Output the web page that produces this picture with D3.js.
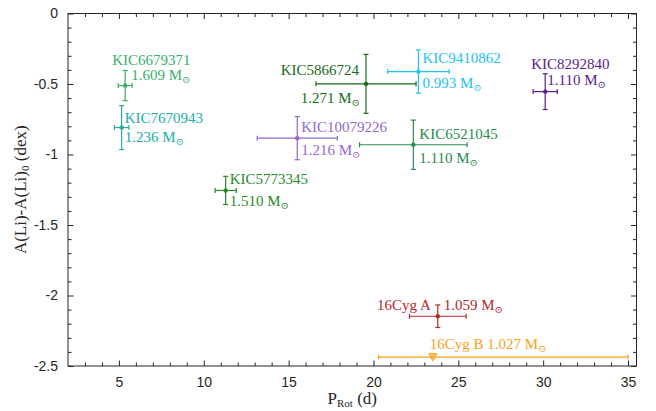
<!DOCTYPE html>
<html>
<head>
<meta charset="utf-8">
<script src="https://cdn.jsdelivr.net/npm/d3@7"></script>
<style>
  body { margin: 0; background: #fff; }
  svg { display: block; }
  .tick text { font-family: "Liberation Sans", Arial, sans-serif; font-size: 14px; fill: #262626; }
  .lbl { font-family: "Liberation Serif", "DejaVu Serif", serif; font-size: 15px; }
  .title { font-family: "Liberation Serif", "DejaVu Serif", serif; font-size: 17px; }
</style>
</head>
<body>
<div id="chart"></div>
<script>
const stars = ["KIC6679371", "KIC7670943", "KIC5773345", "KIC10079226", "KIC5866724",
  "KIC9410862", "KIC8292840", "KIC6521045", "16Cyg A", "16Cyg B"];
const masses = ["1.609", "1.236", "1.510", "1.216", "1.271", "0.993", "1.110", "1.110", "1.059", "1.027"];
const prot = [5.37, 5.16, 11.29, 15.51, 19.56, 22.65, 30.12, 22.35, 23.79, 23.5];
const protErrLo = [0.41, 0.43, 0.62, 2.36, 2.95, 1.81, 0.71, 3.17, 1.67, 3.2];
const protErrHi = [0.41, 0.43, 0.62, 2.36, 2.95, 1.81, 0.71, 3.17, 1.67, 11.5];
const dLi = [-0.511, -0.809, -1.255, -0.884, -0.499, -0.412, -0.554, -0.931, -2.147, -2.437];
const dLiErr = [0.107, 0.156, 0.10, 0.153, 0.209, 0.153, 0.127, 0.175, 0.08, 0];
const upperLimit = [false, false, false, false, false, false, false, false, false, true];

const xTicks = [5, 10, 15, 20, 25, 30, 35];
const yTicks = [0, -0.5, -1, -1.5, -2, -2.5];

const colors = ["#3aaf6a", "#22aea6", "#2a8a2a", "#9467d4", "#186b18",
  "#1ec0f5", "#5a1e8c", "#2a8a52", "#b8262b", "#f7a21b"];

// label placement relative to the point: [dx, dy, anchor] for name, then mass
const namePos = [[-13, -21, "start"], [3, -5, "start"], [4, -6, "start"], [4, -6, "start"], [-7, -9, "end"],
  [4, -9, "start"], [-14, -23, "start"], [6, -6, "start"], [-7, -6, "end"], [-3, -8, "start"]];
const massPos = [[6, -6, "start"], [3, 14, "start"], [4, 16, "start"], [4, 17, "start"], [-6, 19, "end"],
  [4, 16, "start"], [2, -7, "start"], [6, 18, "start"], [6, -6, "start"], null];

const W = 656, H = 411;
const margin = { top: 13.5, right: 19.5, bottom: 45, left: 68 };
const innerW = W - margin.left - margin.right;
const innerH = H - margin.top - margin.bottom;

const svg = d3.select("#chart").append("svg").attr("width", W).attr("height", H);
const g = svg.append("g").attr("transform", `translate(${margin.left},${margin.top})`);

const x = d3.scaleLinear().domain([2, 35.5]).range([0, innerW]);
const y = d3.scaleLinear().domain([-2.5, 0]).range([innerH, 0]);

const axisColor = "#262626";
const xMinor = d3.range(3, 36, 1).filter(v => v % 5 !== 0);
const yMinor = d3.range(-24, 0, 1).map(v => v / 10).filter(v => Math.round(v * 10) % 5 !== 0);

function styleAxis(sel) {
  sel.select(".domain").remove();
  sel.selectAll("line").attr("stroke", axisColor);
}

// minor ticks
g.append("g").attr("transform", `translate(0,${innerH})`)
  .call(d3.axisBottom(x).tickValues(xMinor).tickSize(-3.5).tickFormat(""))
  .call(styleAxis);
g.append("g")
  .call(d3.axisTop(x).tickValues(xMinor).tickSize(-3.5).tickFormat(""))
  .call(styleAxis);
g.append("g")
  .call(d3.axisLeft(y).tickValues(yMinor).tickSize(-3.5).tickFormat(""))
  .call(styleAxis);
g.append("g").attr("transform", `translate(${innerW},0)`)
  .call(d3.axisRight(y).tickValues(yMinor).tickSize(-3.5).tickFormat(""))
  .call(styleAxis);

// major ticks
g.append("g").attr("transform", `translate(0,${innerH})`)
  .call(d3.axisBottom(x).tickValues(xTicks).tickSizeInner(-5.5).tickSizeOuter(0).tickPadding(11).tickFormat(d => String(d)))
  .call(styleAxis);
g.append("g")
  .call(d3.axisTop(x).tickValues(xTicks).tickSize(-5.5).tickFormat(""))
  .call(styleAxis);
g.append("g")
  .call(d3.axisLeft(y).tickValues(yTicks).tickSizeInner(-5.5).tickSizeOuter(0).tickPadding(10).tickFormat(d => String(d)))
  .call(styleAxis);
g.append("g").attr("transform", `translate(${innerW},0)`)
  .call(d3.axisRight(y).tickValues(yTicks).tickSize(-5.5).tickFormat(""))
  .call(styleAxis);

g.append("rect").attr("width", innerW).attr("height", innerH)
  .attr("fill", "none").attr("stroke", axisColor).attr("stroke-width", 1);

// error bars and markers
const cap = 2.5;
stars.forEach((name, i) => {
  const c = colors[i];
  const px = x(prot[i]), py = y(dLi[i]);
  const s = g.append("g").attr("stroke", c).attr("stroke-width", 1.2).attr("fill", c);
  const x0 = x(prot[i] - protErrLo[i]), x1 = x(prot[i] + protErrHi[i]);
  s.append("line").attr("x1", x0).attr("x2", x1).attr("y1", py).attr("y2", py);
  [x0, x1].forEach(xx => s.append("line").attr("x1", xx).attr("x2", xx).attr("y1", py - cap).attr("y2", py + cap));
  if (dLiErr[i] > 0) {
    const y0 = y(dLi[i] - dLiErr[i]), y1 = y(dLi[i] + dLiErr[i]);
    s.append("line").attr("x1", px).attr("x2", px).attr("y1", y0).attr("y2", y1);
    [y0, y1].forEach(yy => s.append("line").attr("x1", px - cap).attr("x2", px + cap).attr("y1", yy).attr("y2", yy));
  }
  if (upperLimit[i]) {
    s.append("path").attr("d", d3.symbol(d3.symbolTriangle, 30)())
      .attr("transform", `translate(${px},${py - 1}) rotate(180)`)
      .attr("fill", c).attr("fill-opacity", 0.6).attr("stroke-width", 1);
  } else {
    s.append("circle").attr("cx", px).attr("cy", py).attr("r", 2.2).attr("stroke", "none");
  }

  // labels
  const addMass = (t) => {
    t.append("tspan").text(masses[i] + " M");
    t.append("tspan").attr("font-size", "10px").attr("dy", 3).text("\u2299");
  };
  const np = namePos[i];
  const nt = g.append("text").attr("class", "lbl").attr("fill", c)
    .attr("x", px + np[0]).attr("y", py + np[1]).attr("text-anchor", np[2]);
  if (massPos[i]) {
    nt.text(name);
    const mp = massPos[i];
    const mt = g.append("text").attr("class", "lbl").attr("fill", c)
      .attr("x", px + mp[0]).attr("y", py + mp[1]).attr("text-anchor", mp[2]);
    addMass(mt);
  } else {
    nt.append("tspan").text(name + " ");
    addMass(nt);
  }
});

// axis titles
const xt = svg.append("text").attr("class", "title").attr("fill", axisColor)
  .attr("x", margin.left + innerW / 2).attr("y", 404).attr("text-anchor", "middle");
xt.append("tspan").text("P");
xt.append("tspan").attr("font-size", "11px").attr("dy", 3).text("Rot");
xt.append("tspan").attr("dy", -3).text(" (d)");

const yt = svg.append("text").attr("class", "title").attr("fill", axisColor)
  .attr("transform", `translate(26,${margin.top + innerH / 2}) rotate(-90)`).attr("text-anchor", "middle");
yt.append("tspan").text("A(Li)-A(Li)");
yt.append("tspan").attr("font-size", "11px").attr("dy", 3).text("0");
yt.append("tspan").attr("dy", -3).text(" (dex)");
</script>
</body>
</html>
